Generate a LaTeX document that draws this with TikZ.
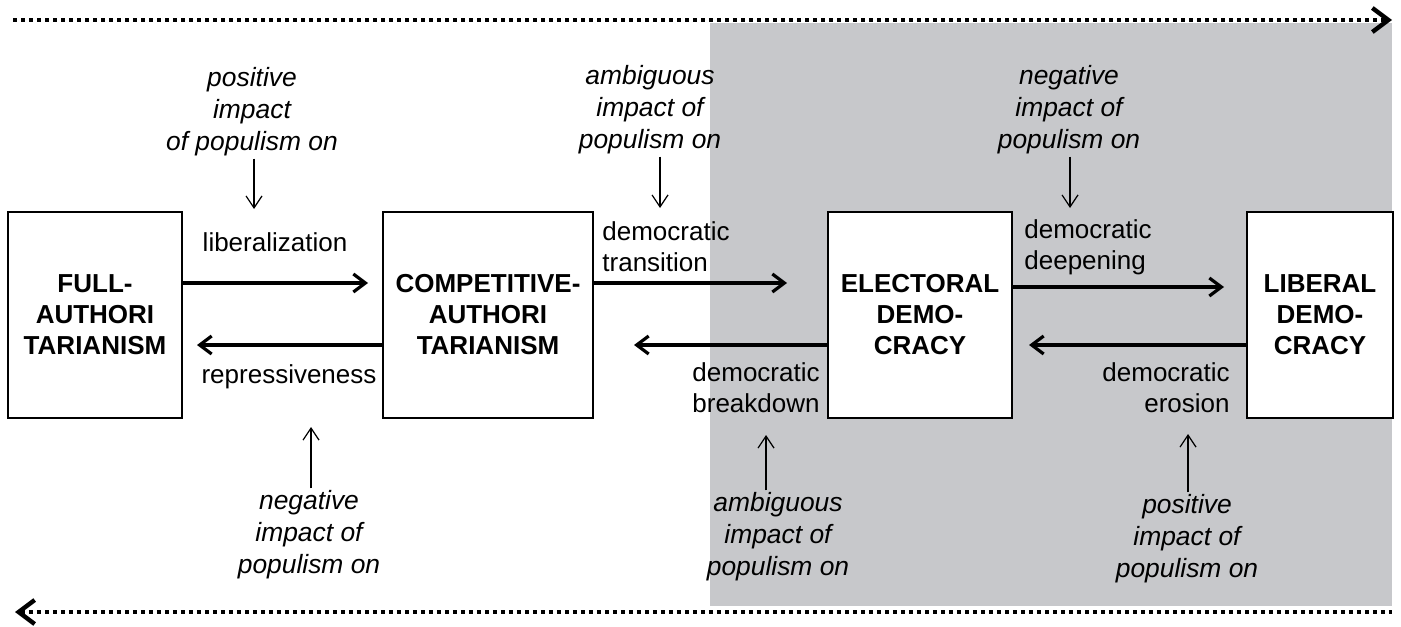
\documentclass[tikz,border=0pt]{standalone}
\usepackage{fontspec}
\setmainfont{Liberation Sans}
\usetikzlibrary{arrows.meta}

\definecolor{regimegray}{RGB}{199,200,203}
\newcommand{\diagfont}{\fontsize{13}{15.5}\selectfont}
\newcommand{\notefont}{\fontsize{13.2}{16}\selectfont}

\tikzset{
	regime/.style={draw, line width=1pt, fill=white, align=center, font=\bfseries\diagfont, inner sep=2pt, minimum height=103pt},
	shift label/.style={font=\diagfont, inner sep=0pt},
	impact note/.style={font=\itshape\notefont, align=center, inner sep=1pt},
	flow/.style={line width=1.6pt, -{Straight Barb[length=6pt,width=9pt]}},
	impact/.style={line width=0.6pt, -{Straight Barb[length=6pt,width=8pt]}},
	dotline/.style={line width=2.2pt, dash pattern=on 2pt off 2pt}
}

\begin{document}
\begin{tikzpicture}[x=0.5pt, y=-0.5pt]
			\useasboundingbox (0,0) rectangle (1401,626);
			\fill[regimegray] (710,23) rectangle (1392,606);

			\coordinate (topL) at (13,20);
			\coordinate (topR) at (1392,20);
			\coordinate (botL) at (15,612);
			\coordinate (botR) at (1392,612);
			\draw[dotline, -{Straight Barb[length=8pt,width=12pt]}] (topL) -- (topR);
			\draw[dotline, {Straight Barb[length=8pt,width=12pt]}-] (botL) -- (botR);

			\node[regime, minimum width=87pt] (full) at (95,315) {FULL-\\AUTHORI\\TARIANISM};
			\node[regime, minimum width=105pt] (comp) at (488,315) {COMPETITIVE-\\AUTHORI\\TARIANISM};
			\node[regime, minimum width=92pt] (elect) at (920,315) {ELECTORAL\\DEMO-\\CRACY};
			\node[regime, minimum width=73pt] (liberal) at (1320,315) {LIBERAL\\DEMO-\\CRACY};

			\node[shift label] (libl) at (275,242) {liberalization};
			\node[shift label] (repl) at (289,377) {repressiveness};
			\node[shift label, anchor=west, align=left] (transl) at (602,247) {democratic\\transition};
			\node[shift label, anchor=east, align=right] (brkl) at (820,388) {democratic\\breakdown};
			\node[shift label, anchor=west, align=left] (deepl) at (1024,247) {democratic\\deepening};
			\node[shift label, anchor=east, align=right] (erol) at (1230,388) {democratic\\erosion};

			\draw[flow, shorten >=7pt] ([yshift=16pt]full.east) -- ([yshift=16pt]comp.west);
			\draw[flow, shorten >=7pt] ([yshift=-15pt]comp.west) -- ([yshift=-15pt]full.east);
			\draw[flow, shorten >=20pt] ([yshift=16pt]comp.east) -- ([yshift=16pt]elect.west);
			\draw[flow, shorten >=20pt] ([yshift=-15pt]elect.west) -- ([yshift=-15pt]comp.east);
			\draw[flow, shorten >=11pt] ([yshift=14pt]elect.east) -- ([yshift=14pt]liberal.west);
			\draw[flow, shorten >=8pt] ([yshift=-15pt]liberal.west) -- ([yshift=-15pt]elect.east);

			% impact of populism, above and below
			\node[impact note] (posT) at (252,112) {positive\\impact\\of populism on};
			\node[impact note] (ambT) at (650,110) {ambiguous\\impact of\\populism on};
			\node[impact note] (negT) at (1069,110) {negative\\impact of\\populism on};
			\node[impact note] (negB) at (309,535) {negative\\impact of\\populism on};
			\node[impact note] (ambB) at (778,537) {ambiguous\\impact of\\populism on};
			\node[impact note] (posB) at (1187,539) {positive\\impact of\\populism on};

			\coordinate (libtip) at (254,209);
			\coordinate (transtip) at (660,208);
			\coordinate (deeptip) at (1070,208);
			\coordinate (reptip) at (311,427);
			\coordinate (brktip) at (766,435);
			\coordinate (erotip) at (1188,434);

			\draw[impact] (posT.south -| libtip) -- (libtip);
			\draw[impact] (ambT.south -| transtip) -- (transtip);
			\draw[impact] (negT.south -| deeptip) -- (deeptip);
			\draw[impact] (negB.north -| reptip) -- (reptip);
			\draw[impact] (ambB.north -| brktip) -- (brktip);
			\draw[impact] (posB.north -| erotip) -- (erotip);
		\end{tikzpicture}
\end{document}
